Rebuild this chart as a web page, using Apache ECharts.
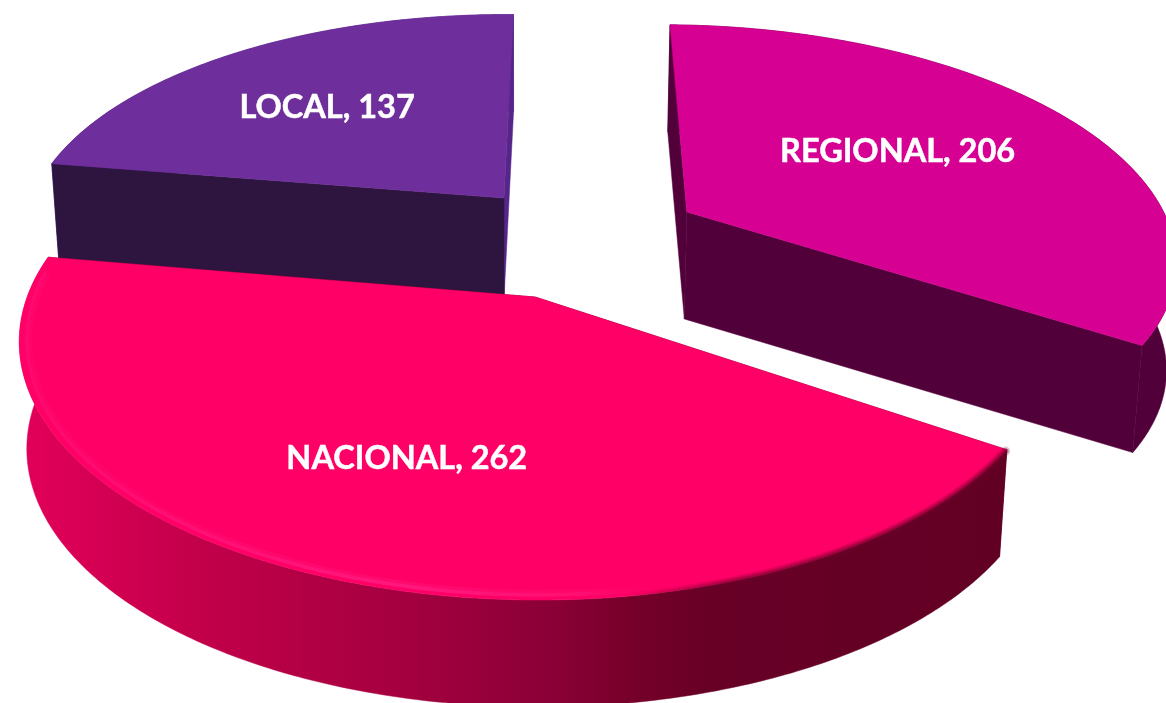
<!DOCTYPE html>
<html>
<head>
<meta charset="utf-8">
<style>html,body{margin:0;padding:0;background:#fff;overflow:hidden}#c{width:1166px;height:703px}</style>
<script src="https://cdn.jsdelivr.net/npm/echarts@6/dist/echarts.min.js"></script>
</head>
<body>
<div id="c"></div>
<script>
// Data (drawing order: back to front)
const categories = ['LOCAL', 'REGIONAL', 'NACIONAL'];
const values = [137, 206, 262];
const topColors = ['#6E2E9B', '#D60093', '#FF0066'];
const sideColors = ['#2E1540', '#52003A', '#620024'];
const farSideColors = ['#55258A', '#52003A', '#620024'];
const outerColors = ['#55258A', '#52003A', '#620024'];

// Clockwise order on the disc, beginning at the NACIONAL/REGIONAL cut
const sweepOrder = ['NACIONAL', 'LOCAL', 'REGIONAL'];
const START_DEG = 33.6;

// Perspective camera of the disc
const CAM = { cx: 520, cy: 297, rx: 508, ry: 248.5, k: 0.18, pinch: 0.015 };
// Slice thickness, explosion and label placement by slice
const depth = [97, 107, 107];
const explodeX = [-0.034, 0.35, 0.03];
const explodeY = [-0.429, -0.3645, 0];
const labelRadius = [0.61, 0.56, 0.625];
const labelTurn = [-2, -3.2, 0];

const total = values.reduce((a, b) => a + b, 0);
const spans = {};
let acc = START_DEG;
sweepOrder.forEach(name => {
  const v = values[categories.indexOf(name)];
  const sweep = v / total * 360;
  spans[name] = [acc, acc + sweep];
  acc += sweep;
});

function project(i, X, Y, h) {
  const s = 1 / (1 - CAM.k * Y);
  return [
    CAM.cx + CAM.rx * X * s * (1 - CAM.pinch * h),
    CAM.cy + CAM.ry * Y * s + depth[i] * h
  ];
}
function rim(i, a0, a1, h, r) {
  const pts = [];
  const n = Math.max(2, Math.ceil(Math.abs(a1 - a0) * 1.5));
  for (let j = 0; j <= n; j++) {
    const t = (a0 + (a1 - a0) * j / n) * Math.PI / 180;
    pts.push(project(i, explodeX[i] + r * Math.cos(t), explodeY[i] + r * Math.sin(t), h));
  }
  return pts;
}
function apex(i, h) { return project(i, explodeX[i], explodeY[i], h); }

function wallFill(i) {
  if (categories[i] !== 'NACIONAL') return outerColors[i];
  return new echarts.graphic.LinearGradient(15, 0, 1000, 0, [
    { offset: 0, color: '#E4005A' },
    { offset: 0.19, color: '#C2004A' },
    { offset: 0.39, color: '#A50040' },
    { offset: 0.55, color: '#8A0036' },
    { offset: 0.63, color: '#750029' },
    { offset: 0.70, color: '#680026' },
    { offset: 1, color: sideColors[i] }
  ], true);
}

function glow(i, a0, a1, r, width, stops) {
  return {
    type: 'polyline',
    shape: { points: rim(i, a0, a1, 0, r) },
    style: { fill: 'none', lineWidth: width, lineCap: 'round', stroke: new echarts.graphic.LinearGradient(15, 0, 1000, 0, stops, true) }
  };
}

function renderSlice(params, api) {
  const i = params.dataIndex;
  const name = categories[i];
  const [a0, a1] = spans[name];
  const topRim = rim(i, a0, a1, 0, 1);
  const lowRim = rim(i, a0, a1, 1, 1);
  const poly = (points, fill) => ({ type: 'polygon', shape: { points }, style: { fill, stroke: fill, lineWidth: 0.5 } });
  const A0 = apex(i, 0), A1 = apex(i, 1);
  const outerWall = poly(topRim.concat(lowRim.slice().reverse()), wallFill(i));
  const cutEnd = poly([A0, topRim[topRim.length - 1], lowRim[lowRim.length - 1], A1], farSideColors[i]);
  const cutStart = poly([A0, topRim[0], lowRim[0], A1], sideColors[i]);
  // The back slices show their cut walls in front of the outer wall; the front slice the reverse.
  const children = name === 'NACIONAL' ? [cutEnd, cutStart, outerWall] : [outerWall, cutEnd, cutStart];
  // top face
  children.push(poly([A0].concat(topRim), topColors[i]));
  if (name === 'NACIONAL') {
    // soft shading where the top meets the wall, dark on the right
    const clear = 'rgba(110,0,40,0)';
    [[1.0, 9, 0.22], [1.0, 6, 0.3], [1.0, 3, 0.45]].forEach(([r, w, a]) => {
      children.push(glow(i, a0 + 0.3, a1 - 1, r, w, [
        { offset: 0, color: clear },
        { offset: 0.62, color: clear },
        { offset: 0.72, color: 'rgba(110,0,40,' + a * 0.8 + ')' },
        { offset: 1, color: 'rgba(110,0,40,' + a + ')' }
      ]));
    });
    // soft highlight on the left and bottom
    const off = 'rgba(255,0,110,0)';
    [[0.982, 7, 0.14], [0.986, 3.5, 0.26]].forEach(([r, w, a]) => {
      children.push(glow(i, a0 + 10, a1 - 4, r, w, [
        { offset: 0, color: 'rgba(255,40,140,' + a * 0.6 + ')' },
        { offset: 0.4, color: 'rgba(255,50,150,' + a * 1.4 + ')' },
        { offset: 0.58, color: 'rgba(255,40,130,' + a + ')' },
        { offset: 0.66, color: off },
        { offset: 1, color: off }
      ]));
    });
  }
  // label
  const mid = ((a0 + a1) / 2 + labelTurn[i]) * Math.PI / 180;
  const lp = project(i, explodeX[i] + labelRadius[i] * Math.cos(mid), explodeY[i] + labelRadius[i] * Math.sin(mid), 0);
  children.push({
    type: 'text',
    style: {
      text: name + ', ' + api.value(0),
      x: lp[0], y: lp[1],
      fill: '#FFFFFF',
      stroke: '#FFFFFF', lineWidth: 0.5,
      font: 'bold 32.5px Lato, "Open Sans", sans-serif',
      align: 'center', verticalAlign: 'middle'
    }
  });
  return { type: 'group', children };
}

const chart = echarts.init(document.getElementById('c'), null, { renderer: 'canvas' });
chart.setOption({
  animation: false,
  backgroundColor: '#FFFFFF',
  series: [{
    type: 'custom',
    coordinateSystem: 'none',
    renderItem: renderSlice,
    data: values.map((v, i) => ({ name: categories[i], value: [v] }))
  }]
});
</script>
</body>
</html>
